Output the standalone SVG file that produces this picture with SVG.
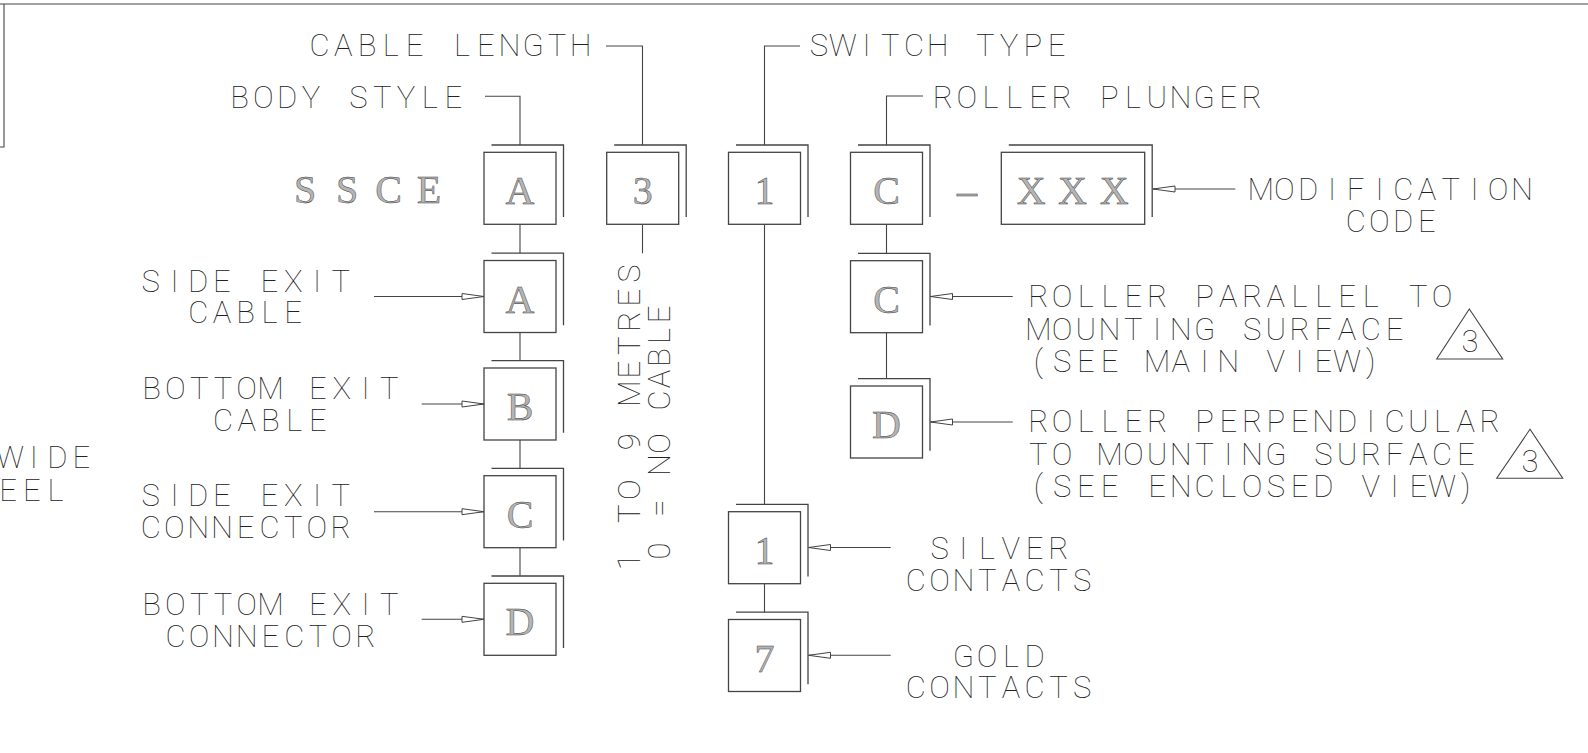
<svg xmlns="http://www.w3.org/2000/svg" width="1588" height="753" viewBox="0 0 1588 753">
<style>
.cad{font-family:Roboto,"Liberation Sans",sans-serif;font-weight:100;font-size:31px;fill:#222;text-anchor:middle}
.ser{font-family:"Liberation Serif","DejaVu Serif",serif;font-size:40px;fill:#b4b4b4;stroke:#3a3a3a;stroke-width:0.45;text-anchor:middle}
.box{fill:#fff;stroke:#444;stroke-width:1.3}
.sh{fill:none;stroke:#444;stroke-width:1.3}
.ln{fill:none;stroke:#444;stroke-width:1.1}
.tri{fill:none;stroke:#444;stroke-width:1.1}
</style>
<defs>
<marker id="arr" markerUnits="userSpaceOnUse" markerWidth="26" markerHeight="10" viewBox="-24 -5 26 10" refX="0" refY="0" orient="auto">
<path d="M0,0 L-22,-3 L-22,3 Z" fill="#fff" stroke="#444" stroke-width="1"/>
</marker>
</defs>
<rect width="1588" height="753" fill="#fff"/>
<g id="frame" class="ln" stroke="#777">
<path d="M0,4 H1588 M4,4 V147 H0"/>
</g>
<g id="connectors" class="ln">
<path d="M485,96.2 H520 V145 M606,46 H642.5 V145 M800,46 H764.5 V145 M923,96 H886.5 V145"/>
<path d="M520,224.3 V253.2 M520,332.5 V360.7 M520,440 V468.4 M520,547.7 V576"/>
<path d="M642.5,224.3 V253.3"/>
<path d="M764.5,224.3 V504.4 M764.5,583.7 V612.2"/>
<path d="M886.5,224.3 V253.4 M886.5,332.7 V378.7"/>
<line x1="374" y1="296.5" x2="484" y2="296.5" marker-end="url(#arr)"/>
<line x1="421.7" y1="404" x2="484" y2="404" marker-end="url(#arr)"/>
<line x1="374" y1="511.7" x2="484" y2="511.7" marker-end="url(#arr)"/>
<line x1="421.7" y1="619.3" x2="484" y2="619.3" marker-end="url(#arr)"/>
<line x1="1235.3" y1="189" x2="1153" y2="189" marker-end="url(#arr)"/>
<line x1="1012.7" y1="296.5" x2="930.5" y2="296.5" marker-end="url(#arr)"/>
<line x1="1012.7" y1="422" x2="930.5" y2="422" marker-end="url(#arr)"/>
<line x1="890.7" y1="547.5" x2="808.5" y2="547.5" marker-end="url(#arr)"/>
<line x1="890.7" y1="655.3" x2="808.5" y2="655.3" marker-end="url(#arr)"/>
</g>
<g id="prefix"><text class="ser" x="305 347 388.5 429" y="203" font-size="39">SSCE</text></g>
<g id="box-body-top"><rect class="box" x="484" y="152.3" width="72" height="72"/><path class="sh" d="M491.5,145 H563.5 V217"/><text class="ser" x="520" y="204">A</text></g>
<g id="box-cable"><rect class="box" x="606.7" y="152.3" width="72" height="72"/><path class="sh" d="M614.2,145 H686.2 V217"/><text class="ser" x="642.7" y="204">3</text></g>
<g id="box-switch-top"><rect class="box" x="728.5" y="152.3" width="72" height="72"/><path class="sh" d="M736,145 H808 V217"/><text class="ser" x="764.5" y="204">1</text></g>
<g id="box-roller-top"><rect class="box" x="850.5" y="152.3" width="72" height="72"/><path class="sh" d="M858,145 H930 V217"/><text class="ser" x="886.5" y="204">C</text></g>
<g id="dash"><text class="ser" x="967" y="204" font-size="48">–</text></g>
<g id="box-mod"><rect class="box" x="1001.3" y="152.3" width="143.4" height="72"/><path class="sh" d="M1008.8,145 H1152.2 V217"/><text class="ser" x="1031.2 1072.5 1114.2" y="204">XXX</text></g>
<g id="box-a"><rect class="box" x="484" y="260.5" width="72" height="72"/><path class="sh" d="M491.5,253.2 H563.5 V325.2"/><text class="ser" x="520" y="312.5">A</text></g>
<g id="box-b"><rect class="box" x="484" y="368" width="72" height="72"/><path class="sh" d="M491.5,360.7 H563.5 V432.7"/><text class="ser" x="520" y="420">B</text></g>
<g id="box-c"><rect class="box" x="484" y="475.7" width="72" height="72"/><path class="sh" d="M491.5,468.4 H563.5 V540.4"/><text class="ser" x="520" y="527.7">C</text></g>
<g id="box-d"><rect class="box" x="484" y="583.3" width="72" height="72"/><path class="sh" d="M491.5,576 H563.5 V648"/><text class="ser" x="520" y="635.3">D</text></g>
<g id="box-c2"><rect class="box" x="850.5" y="260.7" width="72" height="72"/><path class="sh" d="M858,253.4 H930 V325.4"/><text class="ser" x="886.5" y="312.7">C</text></g>
<g id="box-d2"><rect class="box" x="850.5" y="386" width="72" height="72"/><path class="sh" d="M858,378.7 H930 V450.7"/><text class="ser" x="886.5" y="438">D</text></g>
<g id="box-1"><rect class="box" x="728.5" y="511.7" width="72" height="72"/><path class="sh" d="M736,504.4 H808 V576.4"/><text class="ser" x="764.5" y="563.7">1</text></g>
<g id="box-7"><rect class="box" x="728.5" y="619.5" width="72" height="72"/><path class="sh" d="M736,612.2 H808 V684.2"/><text class="ser" x="764.5" y="671.5">7</text></g>
<g id="labels">
<text class="cad" y="55.7" x="319.5 343.25 367 390.75 414.5 438.25 462 485.75 509.5 533.25 557 580.75">CABLE LENGTH</text>
<text class="cad" y="107.7" x="239.7 263.45 287.2 310.95 334.7 358.45 382.2 405.95 429.7 453.45">BODY STYLE</text>
<text class="cad" y="56" x="819 842.75 866.5 890.25 914 937.75 961.5 985.25 1009 1032.75 1056.5">SWITCH TYPE</text>
<text class="cad" y="107.5" x="943 966.75 990.5 1014.25 1038 1061.75 1085.5 1109.25 1133 1156.75 1180.5 1204.25 1228 1251.75">ROLLER PLUNGER</text>
<text class="cad" y="200" x="1260.7 1284.45 1308.2 1331.95 1355.7 1379.45 1403.2 1426.95 1450.7 1474.45 1498.2 1521.95">MODIFICATION</text>
<text class="cad" y="232.3" x="1355.7 1379.45 1403.2 1426.95">CODE</text>
<text class="cad" y="291.7" x="150.7 174.45 198.2 221.95 245.7 269.45 293.2 316.95 340.7">SIDE EXIT</text>
<text class="cad" y="323.3" x="198.2 221.95 245.7 269.45 293.2">CABLE</text>
<text class="cad" y="399" x="151.7 175.45 199.2 222.95 246.7 270.45 294.2 317.95 341.7 365.45 389.2">BOTTOM EXIT</text>
<text class="cad" y="431" x="222.95 246.7 270.45 294.2 317.95">CABLE</text>
<text class="cad" y="506" x="150.7 174.45 198.2 221.95 245.7 269.45 293.2 316.95 340.7">SIDE EXIT</text>
<text class="cad" y="538" x="150.7 174.45 198.2 221.95 245.7 269.45 293.2 316.95 340.7">CONNECTOR</text>
<text class="cad" y="615" x="151.7 175.45 199.2 222.95 246.7 270.45 294.2 317.95 341.7 365.45 389.2">BOTTOM EXIT</text>
<text class="cad" y="647" x="175.45 199.2 222.95 246.7 270.45 294.2 317.95 341.7 365.45">CONNECTOR</text>
<text class="cad" y="559.3" x="939.6 963.35 987.1 1010.85 1034.6 1058.35">SILVER</text>
<text class="cad" y="590.7" x="915.9 939.65 963.4 987.15 1010.9 1034.65 1058.4 1082.15">CONTACTS</text>
<text class="cad" y="666.7" x="963.4 987.15 1010.9 1034.65">GOLD</text>
<text class="cad" y="698.3" x="915.9 939.65 963.4 987.15 1010.9 1034.65 1058.4 1082.15">CONTACTS</text>
<text class="cad" y="307.3" x="1038.3 1062.05 1085.8 1109.55 1133.3 1157.05 1180.8 1204.55 1228.3 1252.05 1275.8 1299.55 1323.3 1347.05 1370.8 1394.55 1418.3 1442.05">ROLLER PARALLEL TO</text>
<text class="cad" y="339.6" x="1038.3 1062.05 1085.8 1109.55 1133.3 1157.05 1180.8 1204.55 1228.3 1252.05 1275.8 1299.55 1323.3 1347.05 1370.8 1394.55">MOUNTING SURFACE</text>
<text class="cad" y="371.9" x="1038.3 1062.05 1085.8 1109.55 1133.3 1157.05 1180.8 1204.55 1228.3 1252.05 1275.8 1299.55 1323.3 1347.05 1370.8">(SEE MAIN VIEW)</text>
<text class="cad" y="432.3" x="1038.3 1062.05 1085.8 1109.55 1133.3 1157.05 1180.8 1204.55 1228.3 1252.05 1275.8 1299.55 1323.3 1347.05 1370.8 1394.55 1418.3 1442.05 1465.8 1489.55">ROLLER PERPENDICULAR</text>
<text class="cad" y="464.6" x="1038.3 1062.05 1085.8 1109.55 1133.3 1157.05 1180.8 1204.55 1228.3 1252.05 1275.8 1299.55 1323.3 1347.05 1370.8 1394.55 1418.3 1442.05 1465.8">TO MOUNTING SURFACE</text>
<text class="cad" y="496.9" x="1038.3 1062.05 1085.8 1109.55 1133.3 1157.05 1180.8 1204.55 1228.3 1252.05 1275.8 1299.55 1323.3 1347.05 1370.8 1394.55 1418.3 1442.05 1465.8">(SEE ENCLOSED VIEW)</text>
<text class="cad" y="467.7" x="10 33.75 57.5 81.25">WIDE</text>
<text class="cad" y="501" x="8 31.75 55.5">EEL</text>
<g transform="rotate(-90)">
<text class="cad" y="640" x="-561.7 -537.7 -513.7 -489.7 -465.7 -441.7 -417.7 -393.7 -369.7 -345.7 -321.7 -297.7 -273.7">1 TO 9 METRES</text>
<text class="cad" y="670" x="-551 -529.5 -508 -486.5 -465 -443.5 -422 -400.5 -379 -357.5 -336 -314.5">0 = NO CABLE</text>
</g>
</g>
<g id="rev-mark-1"><path class="tri" d="M1469.3,309 L1436.7,359 H1502.7 Z"/><text class="cad" x="1470" y="352.3" font-size="27">3</text></g>
<g id="rev-mark-2"><path class="tri" d="M1530,429.3 L1496.7,478.3 H1562.7 Z"/><text class="cad" x="1530" y="471.7" font-size="27">3</text></g>
</svg>
